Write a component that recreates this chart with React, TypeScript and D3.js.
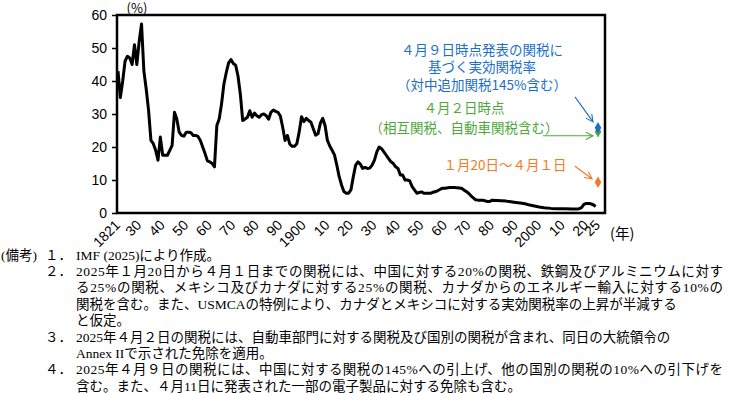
import React, { useEffect, useRef } from "react";
import * as d3 from "d3";

// US average effective tariff rate (%)
const years = [
  1821, 1822, 1823, 1824, 1825, 1826, 1827, 1828, 1829, 1830, 1831, 1832, 1833, 1834, 1835,
  1836, 1837, 1838, 1839, 1840, 1841, 1842, 1843, 1844, 1845, 1846, 1847, 1848, 1849, 1850,
  1851, 1852, 1853, 1854, 1855, 1856, 1857, 1858, 1859, 1860, 1861, 1862, 1863, 1864, 1865,
  1866, 1867, 1868, 1869, 1870, 1871, 1872, 1873, 1874, 1875, 1876, 1877, 1878, 1879, 1880,
  1881, 1882, 1883, 1884, 1885, 1886, 1887, 1888, 1889, 1890, 1891, 1892, 1893, 1894, 1895,
  1896, 1897, 1898, 1899, 1900, 1901, 1902, 1903, 1904, 1905, 1906, 1907, 1908, 1909, 1910,
  1911, 1912, 1913, 1914, 1915, 1916, 1917, 1918, 1919, 1920, 1921, 1922, 1923, 1924, 1925,
  1926, 1927, 1928, 1929, 1930, 1931, 1932, 1933, 1934, 1935, 1936, 1937, 1938, 1939, 1940,
  1941, 1942, 1943, 1944, 1945, 1946, 1947, 1948, 1949, 1950, 1951, 1952, 1953, 1954, 1955,
  1956, 1957, 1958, 1959, 1960, 1962, 1964, 1966, 1967, 1968, 1969, 1970, 1971, 1972, 1973,
  1974, 1976, 1978, 1979, 1980, 1982, 1984, 1986, 1988, 1990, 1992, 1994, 1996, 1998, 2000,
  2002, 2005, 2008, 2011, 2014, 2016, 2017, 2018, 2019, 2020, 2021, 2022, 2023, 2024,
];
const rates = [
  43, 35, 40, 46, 47.5, 47, 45, 51, 45, 52, 57.3, 43, 37.5, 31, 22,
  21, 19, 16, 23, 17.5, 17.5, 17.5, 19, 20.5, 30.5, 28.5, 24.5, 23.5, 23.3, 24.5,
  24.5, 24.3, 23.5, 23.5, 23.2, 22, 20, 18, 15.8, 15.5, 15, 14, 26.5, 28.5, 33,
  39, 42.5, 45.5, 46.5, 45.3, 44.8, 41.5, 36, 28, 28.5, 29, 31, 29, 30.3, 29.5,
  29, 29.8, 30, 29.5, 28.4, 30.5, 31.2, 30.8, 30.5, 29.4, 26, 22, 23.5, 20.9, 20.2,
  20.2, 21, 24.5, 29.2, 27.7, 28.7, 28, 27.5, 25.5, 23.6, 24, 27.2, 28.7, 26.5, 22,
  20.3, 19, 17.6, 14.5, 11, 8.5, 6.5, 6, 6, 7, 11, 14.5, 15.5, 14.8, 13.5,
  13.8, 13.5, 13.6, 14.5, 16, 18.5, 20, 19.5, 18.5, 17.5, 16.5, 15.5, 15, 14, 13.5,
  11.5, 11.5, 10, 10, 9.7, 8, 7, 6, 6.2, 6.4, 6, 6, 6, 6, 6.3,
  6.5, 6.8, 7.2, 7.5, 7.5, 7.7, 7.7, 7.6, 7.5, 7, 6.5, 6, 5.2, 4.6, 4,
  3.9, 3.9, 3.5, 3.5, 3.9, 3.8, 3.7, 3.6, 3.4, 3.2, 3, 2.8, 2.4, 2.1, 1.8,
  1.6, 1.4, 1.3, 1.3, 1.2, 1.2, 1.3, 1.6, 2.6, 2.9, 2.9, 2.8, 2.5, 2.0,
];

// 2025 scenarios
const scenarioYear = 2025;
const scenarioValues = [9.3, 24.6, 25.8];
const scenarioColors = ["#F27A21", "#4DA83C", "#1C6FC6"];
const scenarioText = [
  ["１月20日～４月１日"],
  ["４月２日時点", "（相互関税、自動車関税含む）"],
  ["４月９日時点発表の関税に", "基づく実効関税率", "（対中追加関税145%含む）"],
];

const xTickYears = [1821, 1830, 1840, 1850, 1860, 1870, 1880, 1890, 1900, 1910, 1920, 1930, 1940, 1950, 1960, 1970, 1980, 1990, 2000, 2010, 2020, 2025];
const xTickLabels = ["1821", "30", "40", "50", "60", "70", "80", "90", "1900", "10", "20", "30", "40", "50", "60", "70", "80", "90", "2000", "10", "20", "25"];
const yTicks = [0, 10, 20, 30, 40, 50, 60];

const notes = [
  "2025年１月20日から４月１日までの関税には、中国に対する20%の関税、鉄鋼及びアルミニウムに対す",
  "る25%の関税、メキシコ及びカナダに対する25%の関税、カナダからのエネルギー輸入に対する10%の",
  "関税を含む。また、USMCAの特例により、カナダとメキシコに対する実効関税率の上昇が半減する",
  "と仮定。",
];
const notes3 = ["2025年４月２日の関税には、自動車部門に対する関税及び国別の関税が含まれ、同日の大統領令の", "Annex IIで示された免除を適用。"];
const notes4 = ["2025年４月９日の関税には、中国に対する関税の145%への引上げ、他の国別の関税の10%への引下げを", "含む。また、４月11日に発表された一部の電子製品に対する免除も含む。"];

const App = () => {
  const chartRef = useRef(null);

  useEffect(() => {
    d3.select(chartRef.current).selectAll("*").remove();

    const width = 733;
    const height = 393;
    const box = { left: 117, right: 605, top: 15, bottom: 213 };
    const gothic = "'Noto Sans CJK JP', sans-serif";
    const numFont = "'Liberation Sans', Arial, sans-serif";
    const serif = "'Liberation Serif', 'Noto Sans CJK JP', serif";

    const svg = d3
      .select(chartRef.current)
      .append("svg")
      .attr("width", width)
      .attr("height", height)
      .style("position", "absolute")
      .style("left", 0)
      .style("top", 0)
      .style("background", "#fff");

    const x = d3.scaleLinear().domain([1821, 2025]).range([118, 598]);
    const y = d3.scaleLinear().domain([0, 60]).range([box.bottom, box.top]);

    // arrow markers
    const defs = svg.append("defs");
    scenarioColors.forEach((c, i) => {
      defs
        .append("marker")
        .attr("id", "arr" + i)
        .attr("markerUnits", "userSpaceOnUse")
        .attr("viewBox", "0 0 10 10")
        .attr("refX", 9)
        .attr("refY", 5)
        .attr("markerWidth", 9)
        .attr("markerHeight", 9)
        .attr("orient", "auto")
        .append("path")
        .attr("d", "M1,1 L9,5 L1,9")
        .attr("fill", "none")
        .attr("stroke", c)
        .attr("stroke-width", 1.2);
    });

    // y axis
    const yAxis = svg
      .append("g")
      .attr("transform", `translate(${box.left},0)`)
      .call(d3.axisLeft(y).tickValues(yTicks).tickSize(5).tickPadding(5));
    yAxis.select(".domain").remove();
    yAxis.selectAll("line").attr("stroke", "#000").attr("stroke-width", 1.5);
    yAxis.selectAll("text").style("font-family", numFont).style("font-size", "14px").attr("fill", "#000");

    svg
      .append("text")
      .attr("x", 137)
      .attr("y", 13)
      .attr("text-anchor", "middle")
      .style("font-family", gothic)
      .style("font-size", "13px")
      .text("(%)");

    // x labels, rotated
    svg
      .append("g")
      .selectAll("text")
      .data(xTickYears)
      .enter()
      .append("text")
      .attr("transform", (d) => `translate(${x(d) + 3},226) rotate(-45)`)
      .attr("text-anchor", "end")
      .style("font-family", numFont)
      .style("font-size", "14px")
      .text((d, i) => xTickLabels[i]);

    svg
      .append("text")
      .attr("x", 610)
      .attr("y", 239)
      .style("font-family", gothic)
      .style("font-size", "14.5px")
      .text("(年)");

    // the line
    const line = d3
      .line()
      .x((d) => x(d[0]))
      .y((d) => y(d[1]));
    svg
      .append("path")
      .datum(years.map((yr, i) => [yr, rates[i]]))
      .attr("d", line)
      .attr("fill", "none")
      .attr("stroke", "#000")
      .attr("stroke-width", 3)
      .attr("stroke-linejoin", "round");

    // frame
    svg
      .append("rect")
      .attr("x", box.left)
      .attr("y", box.top)
      .attr("width", box.right - box.left)
      .attr("height", box.bottom - box.top)
      .attr("fill", "none")
      .attr("stroke", "#000")
      .attr("stroke-width", 2.5);

    // scenario points, arrows and labels
    const px = x(scenarioYear);
    const arrows = [
      [-23, -16, -6, -3.5],
      [-55, 4, -5, 4],
      [-23, -31, -5, -6],
    ];
    const textPos = [
      [505, [170]],
      [464, [113, 133]],
      [482, [55, 72, 90]],
    ];
    scenarioValues.forEach((v, i) => {
      const py = y(v);
      const a = arrows[i];
      svg
        .append("line")
        .attr("x1", px + a[0])
        .attr("y1", py + a[1])
        .attr("x2", px + a[2])
        .attr("y2", py + a[3])
        .attr("stroke", scenarioColors[i])
        .attr("stroke-width", 1.1)
        .attr("marker-end", `url(#arr${i})`);
      svg
        .append("path")
        .attr("transform", `translate(${px},${py})`)
        .attr("d", d3.symbol(d3.symbolDiamond, 38)())
        .attr("fill", scenarioColors[i]);
      scenarioText[i].forEach((t, j) => {
        svg
          .append("text")
          .attr("x", textPos[i][0])
          .attr("y", textPos[i][1][j])
          .attr("text-anchor", "middle")
          .attr("fill", scenarioColors[i])
          .style("font-family", gothic)
          .style("font-size", "13.5px")
          .text(t);
      });
    });

    // notes
    const nt = svg.append("g").style("font-family", serif).style("font-size", "13.5px").attr("fill", "#000");
    const tx = 76;
    const y0 = 259.5;
    const step = 16.4;
    const addLine = (str, yy, full) => {
      const t = nt.append("text").attr("x", tx).attr("y", yy).text(str);
      if (full) t.attr("textLength", 723 - tx).attr("lengthAdjust", "spacing");
    };
    nt.append("text").attr("x", 1).attr("y", y0).text("(備考)");
    nt.append("text").attr("x", 45).attr("y", y0).text("１．");
    addLine("IMF (2025)により作成。", y0, false);
    nt.append("text").attr("x", 45).attr("y", y0 + step).text("２．");
    notes.forEach((s, i) => addLine(s, y0 + (1 + i) * step, i < 2));
    nt.append("text").attr("x", 45).attr("y", y0 + 5 * step).text("３．");
    notes3.forEach((s, i) => addLine(s, y0 + (5 + i) * step, false));
    nt.append("text").attr("x", 45).attr("y", y0 + 7 * step).text("４．");
    notes4.forEach((s, i) => addLine(s, y0 + (7 + i) * step, i === 0));
  }, []);

  return <div ref={chartRef}></div>;
};

export default App;
